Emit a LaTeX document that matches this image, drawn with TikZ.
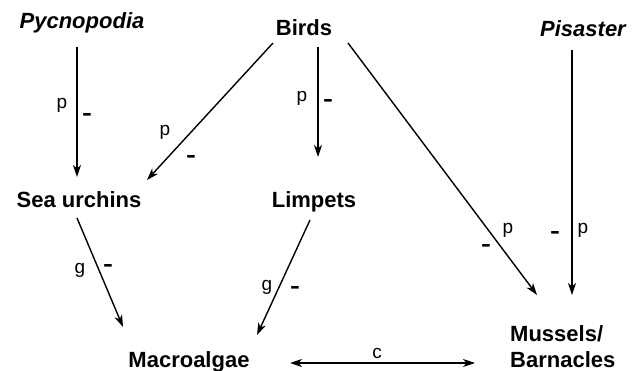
\documentclass[tikz,border=0pt]{standalone}
\usepackage{fontspec}
\setmainfont{Liberation Sans}
\usetikzlibrary{arrows.meta}
\newcommand{\negsign}{\scalebox{1.35}[1]{-}}
\begin{document}
\begin{tikzpicture}[x=1pt,y=-1pt,
  sp/.style={font=\fontsize{22}{26}\selectfont\bfseries, inner sep=0pt, anchor=base},
  spi/.style={sp, font=\fontsize{22}{26}\selectfont\bfseries\itshape},
  lab/.style={font=\fontsize{19}{22}\selectfont, inner sep=0pt},
  neg/.style={font=\fontsize{22}{22}\selectfont\bfseries, inner sep=0pt},
  arr/.style={line width=1.4pt, -{Stealth[length=12pt,width=8pt,inset=3.5pt]}},
  darr/.style={line width=1.4pt, {Stealth[length=12pt,width=8pt,inset=3.5pt]}-{Stealth[length=12pt,width=8pt,inset=3.5pt]}}]
\useasboundingbox (0,0) rectangle (643,371);
\fill[white] (0,0) rectangle (643,371);
% species
\node[spi] (pyc) at (82,29) {Pycnopodia};
\node[sp] (birds) at (304,36) {Birds};
\node[spi] (pis) at (583,37) {Pisaster};
\node[sp] (urch) at (79,208) {Sea urchins};
\node[sp] (limp) at (314,208) {Limpets};
\node[sp] (macro) at (189,368) {Macroalgae};
\node[sp, anchor=north west, align=left] (mus) at (510,325) {Mussels/\\Barnacles};
% connectors
\draw[arr] ([shift={(-5,18)}]pyc.base) -- ([shift={(-2,-31)}]urch.base);
\draw[arr] ([shift={(-31,7)}]birds.base) -- ([shift={(68,-28)}]urch.base);
\draw[arr] ([shift={(14,11)}]birds.base) -- ([shift={(4,-51)}]limp.base);
\draw[arr] ([shift={(44,7)}]birds.base) -- ([shift={(27,-30)}]mus.north west);
\draw[arr] ([shift={(-11,13)}]pis.base) -- ([shift={(62,-30)}]mus.north west);
\draw[arr] ([shift={(-2,10)}]urch.base) -- ([shift={(-66,-41)}]macro.base);
\draw[arr] ([shift={(-4,12)}]limp.base) -- ([shift={(68,-33)}]macro.base);
\draw[darr] ([shift={(101,-5)}]macro.base) -- ([shift={(-35,38)}]mus.north west);
% labels
\node[lab] (l1p) at (62,105) {p};
\node[neg] (l1m) at (87,117) {\negsign};
\node[lab] (l2p) at (165,132) {p};
\node[neg] (l2m) at (191,159) {\negsign};
\node[lab] (l3p) at (302,98) {p};
\node[neg] (l3m) at (328,103) {\negsign};
\node[lab] (l4p) at (508,230) {p};
\node[neg] (l4m) at (486,248) {\negsign};
\node[neg] (l5m) at (555,235) {\negsign};
\node[lab] (l5p) at (583,230) {p};
\node[lab] (l6g) at (80,270) {g};
\node[neg] (l6m) at (108,268) {\negsign};
\node[lab] (l7g) at (267,287) {g};
\node[neg] (l7m) at (295,290) {\negsign};
\node[lab] (l8c) at (377,353) {c};
\end{tikzpicture}
\end{document}
